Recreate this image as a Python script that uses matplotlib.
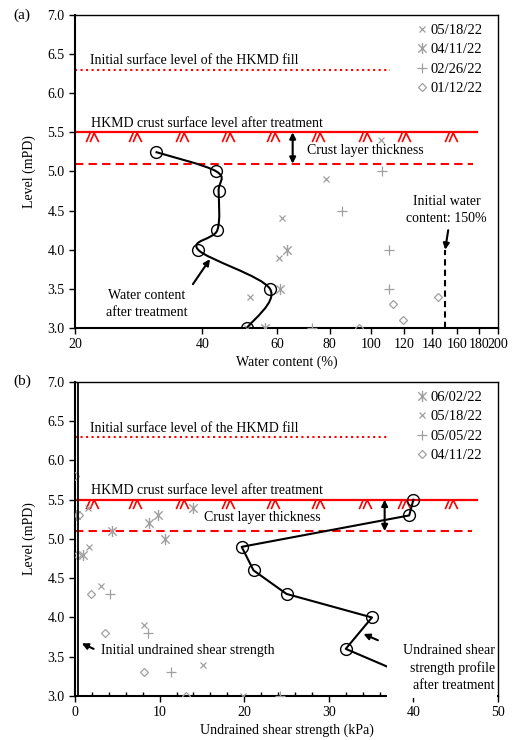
import numpy as np
import matplotlib.pyplot as plt
from matplotlib.path import Path
from matplotlib.patches import PathPatch, Rectangle

plt.rcParams['font.family'] = ['Liberation Serif', 'DejaVu Serif']
plt.rcParams['font.size'] = 10

GRAY = '#a0a0a0'
RED = '#ff0000'

# ---------------- data, panel (a): water content ----------------
wc_after = [31.0, 43.2, 43.7, 43.4, 39.1, 57.8, 51.0]
wc_after_lvl = [5.25, 5.0, 4.75, 4.25, 4.0, 3.5, 3.0]

wc_0518 = [106, 78.4, 61.6, 60.8, 51.9, 51.0]
wc_0518_lvl = [5.4, 4.9, 4.4, 3.9, 3.4, 3.0]
wc_0411 = [63.5, 60.9, 56.3]
wc_0411_lvl = [4.0, 3.5, 3.0]
wc_0226 = [106.5, 85.5, 110.7, 110.5, 72.7]
wc_0226_lvl = [5.0, 4.5, 4.0, 3.5, 3.0]
wc_0112 = [144.5, 112.7, 119.1, 94.0]
wc_0112_lvl = [3.4, 3.3, 3.1, 3.0]
wc_initial = 150

# ---------------- data, panel (b): undrained shear strength ----------------
su_after = [40.0, 39.5, 19.7, 21.1, 25.0, 35.1, 32.0, 45.0]
su_after_lvl = [5.5, 5.3, 4.9, 4.6, 4.3, 4.0, 3.6, 3.0]

su_0602 = [14.0, 9.8, 8.8, 4.4, 10.6, 1.0, 0.1]
su_0602_lvl = [5.4, 5.3, 5.2, 5.1, 5.0, 4.8, 5.3]
su_0518 = [1.5, 1.7, 3.1, 8.2, 15.1, 19.8]
su_0518_lvl = [5.4, 4.9, 4.4, 3.9, 3.4, 3.0]
su_0505 = [4.1, 8.6, 11.3, 24.2]
su_0505_lvl = [4.3, 3.8, 3.3, 3.0]
su_0411 = [0.0, 0.5, 0.2, 1.9, 3.5, 8.1, 13.1]
su_0411_lvl = [5.8, 5.3, 4.8, 4.3, 3.8, 3.3, 3.0]
su_initial = 0.3

LVL_FILL = 6.3
LVL_CRUST = 5.5
LVL_CRUST_BASE = 5.1

# ---------------- markers ----------------
ASTER = Path([(0, -1), (0, 1), (-0.75, -0.75), (0.75, 0.75), (-0.75, 0.75), (0.75, -0.75)],
             [Path.MOVETO, Path.LINETO, Path.MOVETO, Path.LINETO, Path.MOVETO, Path.LINETO])
# "//\" ground-surface symbol, centred on (0, 0)
HATCH = Path([(-4.75, -3.5), (-1.75, 3.5), (-1.75, -3.5), (1.25, 3.5), (4.75, -3.5)],
             [Path.MOVETO, Path.LINETO, Path.MOVETO, Path.LINETO, Path.LINETO])
HATCH_X = [0.040, 0.142, 0.252, 0.362, 0.467, 0.575, 0.686, 0.778, 0.890]

STYLES = {
    'x': dict(marker='x', ms=4.5, mew=0.9),
    '*': dict(marker=ASTER, ms=8, mew=1.0),
    '+': dict(marker='+', ms=7, mew=0.9),
    'D': dict(marker='D', ms=4.5, mew=0.9, mfc='none'),
}


def gray_pts(ax, x, y, kind, label):
    st = STYLES[kind]
    ax.plot(x, y, ls='none', color=GRAY, mec=GRAY, label=label, zorder=3, **st)


def smooth_path(ax, xs, ys, logx=False):
    # Excel-like smoothed line (Catmull-Rom as cubic Bezier)
    xs = np.asarray(xs, float)
    ys = np.asarray(ys, float)
    u = np.log10(xs) if logx else xs.copy()
    p = np.column_stack([u, ys])
    n = len(p)
    verts = [tuple(p[0])]
    codes = [Path.MOVETO]
    for i in range(n - 1):
        p0 = p[i - 1] if i > 0 else p[i]
        p3 = p[i + 2] if i + 2 < n else p[i + 1]
        c1 = p[i] + (p[i + 1] - p0) / 6
        c2 = p[i + 1] - (p3 - p[i]) / 6
        verts += [tuple(c1), tuple(c2), tuple(p[i + 1])]
        codes += [Path.CURVE4] * 3
    verts = np.array(verts)
    if logx:
        verts[:, 0] = 10 ** verts[:, 0]
    patch = PathPatch(Path(verts, codes), fill=False, edgecolor='k', lw=1.5, zorder=4)
    ax.add_patch(patch)


def ref_lines(ax, x0, x_fill, x_crust, x_base, x_arrow, x_text):
    ax.plot([x0, x_fill], [LVL_FILL] * 2, color=RED, ls=':', lw=1.5, zorder=2)
    ax.plot([x0, x_crust], [LVL_CRUST] * 2, color=RED, lw=1.6, zorder=2)
    ax.plot([x0, x_base], [LVL_CRUST_BASE] * 2, color=RED, ls=(0, (4, 2.5)), lw=1.5, zorder=2)
    ax.plot(HATCH_X, [LVL_CRUST - 0.055] * len(HATCH_X), ls='none', marker=HATCH, ms=9,
            mew=1.2, mfc='none', mec=RED, transform=ax.get_yaxis_transform(), zorder=2)
    ax.text(0.035, LVL_FILL + 0.03, 'Initial surface level of the HKMD fill', va='bottom',
            transform=ax.get_yaxis_transform())
    ax.text(0.038, LVL_CRUST + 0.03, 'HKMD crust surface level after treatment', va='bottom',
            transform=ax.get_yaxis_transform())
    ax.annotate('', xy=(x_arrow, LVL_CRUST_BASE), xytext=(x_arrow, LVL_CRUST),
                arrowprops=dict(arrowstyle='<|-|>', color='k', lw=1.5, mutation_scale=9,
                                shrinkA=0, shrinkB=0))
    ax.text(x_text, 5.27, 'Crust layer thickness', va='center')


fig = plt.figure(figsize=(5.13, 7.40), dpi=100)
ax1 = fig.add_axes([0.1462, 0.5568, 0.8246, 0.4229])
ax2 = fig.add_axes([0.1462, 0.0595, 0.8246, 0.4243])

# ---------------- panel (a) ----------------
ax1.set_xscale('log')
gray_pts(ax1, wc_0518, wc_0518_lvl, 'x', '05/18/22')
gray_pts(ax1, wc_0411, wc_0411_lvl, '*', '04/11/22')
gray_pts(ax1, wc_0226, wc_0226_lvl, '+', '02/26/22')
gray_pts(ax1, wc_0112, wc_0112_lvl, 'D', '01/12/22')
smooth_path(ax1, wc_after, wc_after_lvl, logx=True)
ax1.plot(wc_after, wc_after_lvl, ls='none', marker='o', ms=8.5, mfc='none', mec='k',
         mew=1.0, zorder=5)
ref_lines(ax1, 20, 111, 178, 175, 65.4, 70.6)

ax1.plot([wc_initial, wc_initial], [3.0, 4.0], color='k', ls=(0, (3, 2)), lw=1.5, zorder=3)
ax1.annotate('', xy=(wc_initial, 4.0), xytext=(152.5, 4.25),
             arrowprops=dict(arrowstyle='-|>', color='k', lw=1.5, mutation_scale=9,
                             shrinkA=0, shrinkB=0))
ax1.text(151, 4.51, 'Initial water\ncontent: 150%', ha='center', va='center', linespacing=1.4)
ax1.annotate('', xy=(41.7, 3.88), xytext=(38.0, 3.56),
             arrowprops=dict(arrowstyle='-|>', color='k', lw=1.5, mutation_scale=9,
                             shrinkA=0, shrinkB=0))
ax1.text(29.6, 3.3, 'Water content\nafter treatment', ha='center', va='center', linespacing=1.4)

ax1.set_xlim(20, 200)
ax1.set_ylim(3.0, 7.0)
wc_ticks = [20, 40, 60, 80, 100, 120, 140, 160, 180, 200]
ax1.set_xticks(wc_ticks)
ax1.set_xticklabels([str(t) for t in wc_ticks])
ax1.xaxis.set_minor_locator(plt.NullLocator())
ax1.set_xlabel('Water content (%)', labelpad=3)
ax1.set_ylabel('Level (mPD)', labelpad=8)

# ---------------- panel (b) ----------------
gray_pts(ax2, su_0602, su_0602_lvl, '*', '06/02/22')
gray_pts(ax2, su_0518, su_0518_lvl, 'x', '05/18/22')
gray_pts(ax2, su_0505, su_0505_lvl, '+', '05/05/22')
gray_pts(ax2, su_0411, su_0411_lvl, 'D', '04/11/22')
ax2.plot(su_after, su_after_lvl, color='k', lw=1.5, marker='o', ms=8.5, mfc='none',
         mec='k', mew=1.0, zorder=4)
ax2.plot([su_initial, su_initial], [3.0, 7.0], color='k', lw=1.3, zorder=3)
ref_lines(ax2, 0, 37, 47.5, 46.9, 36.6, 15.3)

ax2.annotate('', xy=(0.8, 3.67), xytext=(2.2, 3.6),
             arrowprops=dict(arrowstyle='-|>', color='k', lw=1.5, mutation_scale=9,
                             shrinkA=0, shrinkB=0))
ax2.text(3.1, 3.58, 'Initial undrained shear strength', va='center')
ax2.annotate('', xy=(34.1, 3.79), xytext=(35.8, 3.71),
             arrowprops=dict(arrowstyle='-|>', color='k', lw=1.5, mutation_scale=9,
                             shrinkA=0, shrinkB=0))
# white box behind the label hides the end of the profile
ax2.add_patch(Rectangle((36.9, 2.97), 12.95, 0.78, facecolor='white', edgecolor='none',
                        zorder=5, clip_on=False))
ax2.text(49.6, 3.36, 'Undrained shear\nstrength profile\nafter treatment', ha='right',
         va='center', linespacing=1.4, zorder=6)

ax2.set_xlim(0, 50)
ax2.set_ylim(3.0, 7.0)
ax2.set_xticks(np.arange(0, 51, 10))
ax2.xaxis.set_minor_locator(plt.MultipleLocator(2))
ax2.set_xlabel('Undrained shear strength (kPa)', labelpad=3)
ax2.set_ylabel('Level (mPD)', labelpad=8)

for ax in (ax1, ax2):
    ax.set_yticks(np.arange(3.0, 7.01, 0.5))
    ax.yaxis.set_major_formatter(plt.FormatStrFormatter('%.1f'))
    ax.tick_params(axis='both', which='major', direction='out', length=4, width=1,
                   labelsize=10, colors='k')
    ax.tick_params(axis='x', which='minor', direction='in', length=3, width=1)
    for sp in ax.spines.values():
        sp.set_linewidth(1.0)
    ax.spines['bottom'].set_linewidth(1.5)
    ax.spines['left'].set_linewidth(1.5)
    ax.legend(loc='upper right', bbox_to_anchor=(0.985, 1.0), frameon=False,
              handlelength=0.7, handletextpad=0.25, labelspacing=0.42,
              borderaxespad=0.2, fontsize=10.5)

fig.text(13 / 513, 1 - 15 / 740, '(a)', fontsize=11, va='center')
fig.text(13 / 513, 1 - 381 / 740, '(b)', fontsize=11, va='center')

fig.savefig('out.png', dpi=100)
